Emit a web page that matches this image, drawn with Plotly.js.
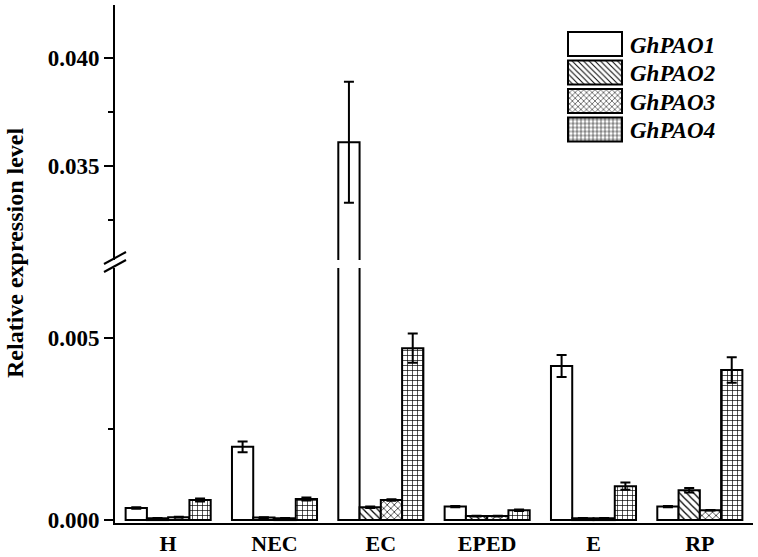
<!DOCTYPE html>
<html>
<head>
<meta charset="utf-8">
<script src="https://cdn.plot.ly/plotly-3.0.1.min.js"></script>
<style>html,body{margin:0;padding:0;background:#fff;}#chart{width:758px;height:557px;}</style>
</head>
<body>
<div id="chart"></div>
<script>
// ---- data ----
var categories = ['H', 'NEC', 'EC', 'EPED', 'E', 'RP'];
var seriesNames = ['GhPAO1', 'GhPAO2', 'GhPAO3', 'GhPAO4'];
var pao1 = [0.00033, 0.00201, 0.0361, 0.00037, 0.00423, 0.00037];
var pao1Err = [0.00002, 0.00015, 0.0028, 0.00002, 0.0003, 0.00002];
var pao2 = [0.00005, 0.00007, 0.00035, 0.00011, 0.00005, 0.00082];
var pao2Err = [0.00001, 0.00001, 0.00002, 0.00001, 0.00001, 0.00006];
var pao3 = [0.00008, 0.00005, 0.00055, 0.00011, 0.00005, 0.00027];
var pao3Err = [0.00001, 0.00001, 0.00002, 0.00001, 0.00001, 0.00001];
var pao4 = [0.00055, 0.00058, 0.00472, 0.00027, 0.00093, 0.00412];
var pao4Err = [0.00004, 0.00004, 0.0004, 0.00002, 0.0001, 0.00035];

var values = [pao1, pao2, pao3, pao4];
var errors = [pao1Err, pao2Err, pao3Err, pao4Err];
var patterns = ['', '\\', 'x', '+'];

// ---- layout geometry (pixels) ----
var W = 758, H = 557;
var mL = 115, mR = 5, mT = 5, mB = 34;
var plotW = W - mL - mR, plotH = H - mT - mB;
function px(x) { return (x - mL) / plotW; }
function py(y) { return (H - mB - y) / plotH; }

var FONT = 'Liberation Serif, Times New Roman, serif';

var traces = [];
['y', 'y2'].forEach(function (ax, k) {
  for (var i = 0; i < 4; i++) {
    traces.push({
      type: 'bar',
      name: seriesNames[i],
      x: categories,
      y: values[i],
      xaxis: 'x',
      yaxis: ax,
      showlegend: k === 0,
      legendgroup: seriesNames[i],
      marker: {
        color: '#ffffff',
        line: { color: '#000000', width: 2 },
        pattern: { shape: patterns[i], fgcolor: '#000000', bgcolor: '#ffffff', size: 5, solidity: 0.25, fillmode: 'replace' }
      },
      error_y: { type: 'data', array: errors[i], visible: true, color: '#000000', thickness: 2, width: 5 }
    });
  }
});

// break marks
var shapes = [];
[258, 266].forEach(function (yc) {
  shapes.push({ type: 'line', xref: 'paper', yref: 'paper',
    x0: px(104), y0: py(yc + 6), x1: px(126), y1: py(yc - 6),
    line: { color: '#000', width: 2 } });
});

var layout = {
  width: W, height: H,
  margin: { l: mL, r: mR, t: mT, b: mB, pad: 0 },
  paper_bgcolor: '#fff', plot_bgcolor: 'rgba(0,0,0,0)',
  barmode: 'group', bargap: 0.2, bargroupgap: 0,
  font: { family: FONT, size: 23, color: '#000', weight: 'bold' },
  showlegend: true,
  legend: {
    x: px(560), y: py(28), xanchor: 'left', yanchor: 'top',
    bgcolor: 'rgba(0,0,0,0)', borderwidth: 0,
    font: { family: FONT, size: 23, style: 'italic', weight: 'bold', color: '#000' },
    tracegroupgap: 0, itemwidth: 60
  },
  xaxis: {
    anchor: 'y', domain: [0, 1], range: [-0.5, 5.5],
    showline: true, linecolor: '#000', linewidth: 2,
    ticks: '', showgrid: false, zeroline: false,
    tickfont: { family: FONT, size: 22, weight: 'bold' }
  },
  yaxis: {
    anchor: 'x', domain: [0, py(268)], range: [-0.00008, 0.00692],
    showline: true, linecolor: '#000', linewidth: 2, mirror: false,
    ticks: 'outside', ticklen: 9, tickwidth: 2, tickcolor: '#000',
    tickvals: [0, 0.005], ticktext: ['0.000', '0.005'],
    minor: { tickvals: [0.0025], ticks: 'outside', ticklen: 5, tickwidth: 2, tickcolor: '#000' },
    showgrid: false, zeroline: false,
    tickfont: { family: FONT, size: 23, weight: 'bold' }
  },
  yaxis2: {
    anchor: 'x', domain: [py(260), 1], range: [0.03065, 0.04245],
    showline: true, linecolor: '#000', linewidth: 2,
    ticks: 'outside', ticklen: 9, tickwidth: 2, tickcolor: '#000',
    tickvals: [0.035, 0.04], ticktext: ['0.035', '0.040'],
    minor: { tickvals: [0.0325, 0.0375], ticks: 'outside', ticklen: 5, tickwidth: 2, tickcolor: '#000' },
    showgrid: false, zeroline: false,
    tickfont: { family: FONT, size: 23, weight: 'bold' }
  },
  annotations: [{
    text: 'Relative expression level', textangle: -90,
    xref: 'paper', yref: 'paper', x: px(15), y: py(252),
    xanchor: 'center', yanchor: 'middle', showarrow: false,
    font: { family: FONT, size: 24, weight: 'bold', color: '#000' }
  }],
  shapes: shapes
};

var gd = document.getElementById('chart');

function restyleLegend() {
  // wide legend boxes and tighter rows, as in the reference
  var items = gd.querySelectorAll('g.legend g.traces');
  items.forEach(function (g, i) {
    g.setAttribute('transform', 'translate(0,' + (16 + i * 28.5) + ')');
    g.querySelectorAll('g.legendpoints path').forEach(function (p) {
      p.setAttribute('d', 'M27,12H-27V-12H27Z');
      p.style.strokeWidth = '2px';
    });
  });
}

Plotly.newPlot(gd, traces, layout, { staticPlot: true, displayModeBar: false }).then(function () {
  restyleLegend();
  setTimeout(restyleLegend, 50);
  setTimeout(restyleLegend, 300);
});
gd.on && gd.on('plotly_afterplot', restyleLegend);
</script>
</body>
</html>
